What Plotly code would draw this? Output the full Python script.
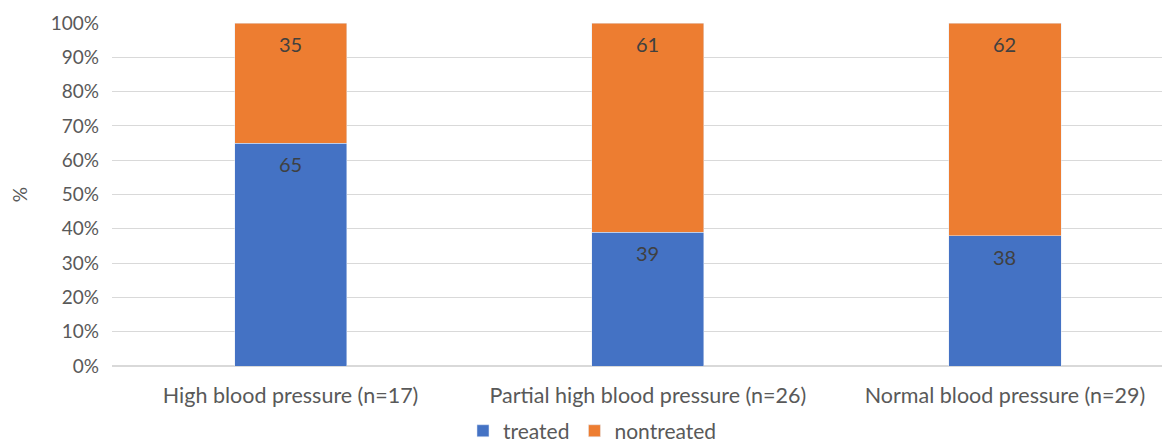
import plotly.graph_objects as go

categories = ["High blood pressure (n=17)", "Partial high blood pressure (n=26)", "Normal blood pressure (n=29)"]
treated = [65, 39, 38]
nontreated = [35, 61, 62]
y_ticks = [0, 10, 20, 30, 40, 50, 60, 70, 80, 90, 100]
y_tick_labels = [f"{v}%" for v in y_ticks]

FONT = "Lato, 'Open Sans', sans-serif"

fig = go.Figure()
fig.add_trace(go.Bar(
    x=categories, y=treated, name="treated",
    marker=dict(color="#4472C4"), width=0.314,
))
fig.add_trace(go.Bar(
    x=categories, y=nontreated, name="nontreated",
    marker=dict(color="#ED7D31"), width=0.314,
))

# data labels placed near the inside end of each segment
for cat, t, n in zip(categories, treated, nontreated):
    for top, val in ((t, t), (t + n, n)):
        fig.add_annotation(
            x=cat, y=top, text=str(val), showarrow=False,
            yanchor="middle", yshift=-21,
            font=dict(family=FONT, size=20, color="#404040"),
        )

fig.update_layout(
    barmode="stack",
    width=1162, height=438,
    margin=dict(l=104, r=0, t=15, b=80, autoexpand=False),
    paper_bgcolor="white", plot_bgcolor="white",
    font=dict(family=FONT, size=18, color="#595959"),
    showlegend=True,
    legend=dict(orientation="h", traceorder="normal",
                x=0.503, xanchor="center", xref="container",
                y=0.034, yanchor="middle", yref="container",
                font=dict(family=FONT, size=21, color="#595959"),
                itemwidth=30, tracegroupgap=0),
)
fig.update_xaxes(
    range=[-0.5, 2.462], showgrid=False, showline=False, zeroline=False,
    tickfont=dict(family=FONT, size=21.5, color="#595959"), ticks="",
    ticklabelstandoff=14, automargin=False,
)
fig.update_yaxes(
    range=[0, 100], tickmode="array", tickvals=y_ticks, ticktext=y_tick_labels,
    showgrid=True, gridcolor="#d9d9d9", gridwidth=1,
    zeroline=True, zerolinecolor="#d9d9d9", showline=False,
    tickfont=dict(family=FONT, size=19, color="#595959"), ticks="",
    ticklabelstandoff=12, automargin=False,
    title=dict(text="%", font=dict(family=FONT, size=19, color="#595959"), standoff=22),
)

fig.write_html("out.html")
